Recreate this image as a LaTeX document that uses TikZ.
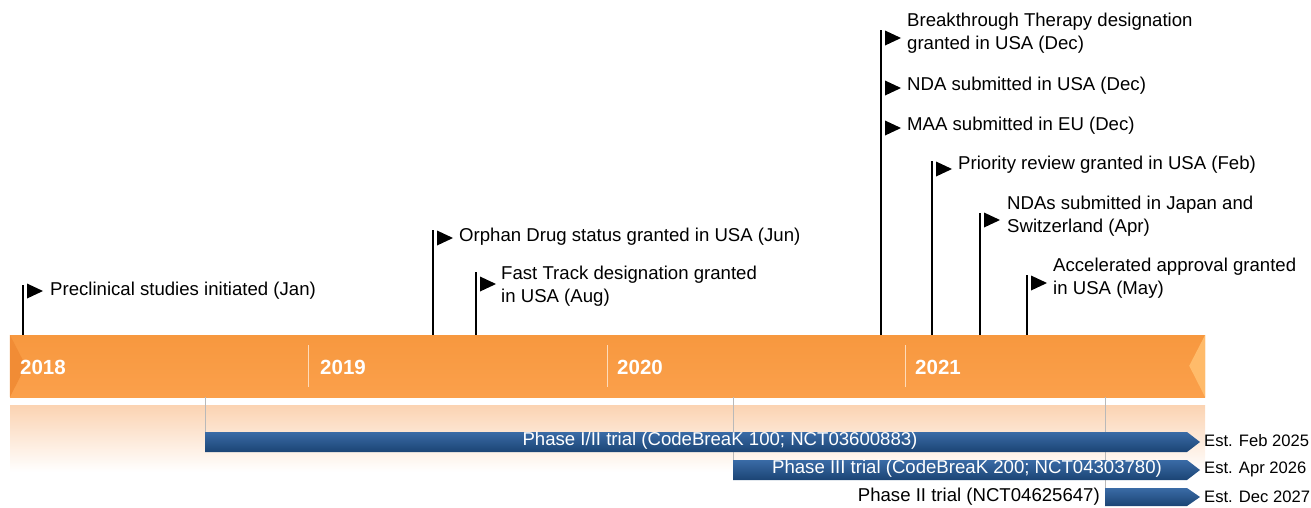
\documentclass[tikz,border=0pt]{standalone}
\usepackage{fontspec}
\setmainfont{Liberation Sans}
\definecolor{bartop}{HTML}{F7983F}
\definecolor{barmid}{HTML}{FDA651}
\definecolor{barbot}{HTML}{FBA04B}
\definecolor{bevdark}{HTML}{F18C35}
\definecolor{bevlight}{HTML}{FFBB6A}
\definecolor{refl}{HTML}{FBD3B2}
\definecolor{bluetop}{HTML}{3A6BA6}
\definecolor{bluebot}{HTML}{1B4474}
\tikzset{
  mile/.style={anchor=west, inner sep=0pt, align=left, font=\fontsize{18.6}{23}\selectfont},
  yearlbl/.style={anchor=west, inner sep=0pt, text=white, font=\fontsize{20.5}{22}\selectfont\bfseries},
  triallbl/.style={inner sep=0pt, font=\fontsize{18.6}{20}\selectfont},
  estlbl/.style={anchor=west, inner sep=0pt, font=\fontsize{16.6}{20}\selectfont},
  pole/.style={line width=1.8pt},
  guide/.style={gray!55, line width=0.8pt},
  trialbar/.style={top color=bluetop, bottom color=bluebot}
}
\newcommand{\flagat}[1]{\fill #1 ++(4,-7.5) -- ++(16,7.5) -- ++(-16,7.5) -- cycle;}
\newcommand{\trialshape}[3]{\path[trialbar] (#1,#2) -- (1187,#2) -- (1200,{(#2+#3)/2}) -- (1187,#3) -- (#1,#3) -- cycle;}
\begin{document}
\begin{tikzpicture}[x=1pt,y=-1pt]
    \useasboundingbox (0,0) rectangle (1311,507);
    % timeline bar and its reflection
    \fill[top color=refl, bottom color=white] (10,405) rectangle (1205,472);
    \node[inner sep=0pt, minimum width=1195pt, minimum height=62pt,
          top color=bartop, middle color=barmid, bottom color=barbot] (bar) at (607.5,366) {};
    \fill[bevdark] (bar.north west) -- ++(16,31) -- (bar.south west) -- cycle;
    \fill[bevlight] (bar.north east) -- ++(-16,31) -- (bar.south east) -- cycle;
    \foreach \x in {308,607,905}
        \draw[white!60!barmid, line width=0.8pt] (\x,345) -- (\x,387);
    \node[yearlbl] (y18) at (20,367) {2018};
    \node[yearlbl] (y19) at (320,367) {2019};
    \node[yearlbl] (y20) at (617,367) {2020};
    \node[yearlbl] (y21) at (915,367) {2021};

    % milestones
    \coordinate (p1) at (23,285);
    \coordinate (p2) at (433,230);
    \coordinate (p3) at (476,272);
    \coordinate (p4) at (881,30);
    \coordinate (p5) at (932,161);
    \coordinate (p6) at (980,213);
    \coordinate (p7) at (1027,275);
    \foreach \p in {p1,p2,p3,p4,p5,p6,p7}
        \draw[pole] (\p) -- (\p |- bar.north);
    \flagat{(23,291)}
    \flagat{(433,238)}
    \flagat{(476,284)}
    \flagat{(881,38)}
    \flagat{(881,88)}
    \flagat{(881,128)}
    \flagat{(932,169)}
    \flagat{(980,220)}
    \flagat{(1027,283)}
    \node[mile] (m1) at (50,291) {Preclinical studies initiated (Jan)};
    \node[mile] (m2) at (459,237) {Orphan Drug status granted in USA (Jun)};
    \node[mile] (m3) at (501,286.5) {Fast Track designation granted\\in USA (Aug)};
    \node[mile] (m4) at (907,33.5) {Breakthrough Therapy designation\\granted in USA (Dec)};
    \node[mile] (m5) at (907,86) {NDA submitted in USA (Dec)};
    \node[mile] (m6) at (907,126) {MAA submitted in EU (Dec)};
    \node[mile] (m7) at (958,165) {Priority review granted in USA (Feb)};
    \node[mile] (m8) at (1007,216.5) {NDAs submitted in Japan and\\Switzerland (Apr)};
    \node[mile] (m9) at (1053,278.5) {Accelerated approval granted\\in USA (May)};

    % trials
    \coordinate (s1) at (205,432);
    \coordinate (s2) at (733,460);
    \coordinate (s3) at (1105,488);
    \foreach \s in {s1,s2,s3}
        \draw[guide] (\s |- bar.south) -- (\s);
    \trialshape{205}{432}{452}
    \trialshape{733}{460}{480}
    \trialshape{1105}{488}{506}
    \node[triallbl, text=white] (t1) at (720,441) {Phase I/II trial (CodeBreaK 100; NCT03600883)};
    \node[triallbl, text=white] (t2) at (967,469) {Phase III trial (CodeBreaK 200; NCT04303780)};
    \node[triallbl, anchor=east] (t3) at (1100,497) {Phase II trial (NCT04625647)};
    \node[estlbl] (e1) at (1204,441) {Est. Feb 2025};
    \node[estlbl] (e2) at (1204,469) {Est. Apr 2026};
    \node[estlbl] (e3) at (1204,497) {Est. Dec 2027};
\end{tikzpicture}
\end{document}
